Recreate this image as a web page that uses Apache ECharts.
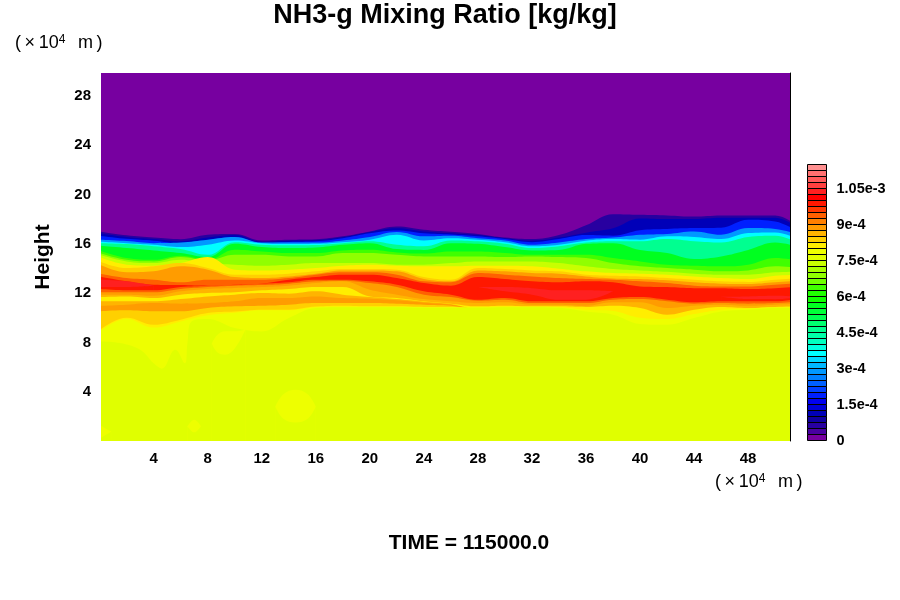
<!DOCTYPE html>
<html>
<head>
<meta charset="UTF-8">
<title>NH3-g Mixing Ratio</title>
<style>
  html, body { margin: 0; background: #fff; }
  #main { width: 900px; height: 600px; }
</style>
<script src="https://cdn.jsdelivr.net/npm/echarts@6/dist/echarts.min.js"></script>
</head>
<body>
<div id="main"></div>
<script>
// horizontal positions (x10^4 m) where the contour heights were read
var xPos = [0,2,4,6,8,10,12,14,16,18,20,22,24,26,28,30,32,34,36,38,40,42,44,46,48,50,52];

// colour bar, level 0 (bottom) to level 45 (top), each level is 2.5e-5 kg/kg
var levelColors = ['#7700a0','#4800a0','#2800a0','#1000a0','#0000b8','#0000d8','#0000f0','#0020ff','#0040ff','#0060ff',
  '#0080ff','#0098ff','#00b8ff','#00d8ff','#00ffff','#00ffe0','#00ffc0','#00ffa8','#00ff90','#00ff70',
  '#00ff50','#00ff38','#00ff20','#10ff00','#20ff00','#40ff00','#70ff00','#90ff00','#a8ff00','#c8ff00',
  '#e0ff00','#eeff00','#ffee00','#ffd000','#ffb400','#ff9c00','#ff8000','#ff6000','#ff3800','#ff1800',
  '#ff0000','#ff2020','#ff4040','#ff5a5a','#ff7070','#ff9090'];
var barLabels = ['0','1.5e-4','3e-4','4.5e-4','6e-4','7.5e-4','9e-4','1.05e-3'];
var xTicks = [4,8,12,16,20,24,28,32,36,40,44,48];
var yTicks = [4,8,12,16,20,24,28];

var topDark    = [17.0,16.68,16.5,16.37,16.73,16.8,16.27,16.33,16.37,16.6,17.0,17.4,17.14,16.97,16.8,16.5,16.38,16.7,17.5,18.4,18.35,18.3,18.2,18.3,18.3,18.3,17.1];
var topNavy    = [16.85,16.55,16.38,16.2,16.5,16.7,16.15,16.25,16.28,16.52,16.95,17.25,17.0,16.85,16.7,16.45,16.25,16.5,16.9,17.25,18.05,18.0,18.0,18.1,18.1,18.1,17.0];
var topBlue    = [16.65,16.4,16.25,16.05,16.3,16.55,16.05,16.15,16.2,16.45,16.85,17.08,16.85,16.75,16.6,16.38,16.13,16.38,16.7,16.65,17.1,17.2,17.27,17.3,17.95,17.8,16.8];
var topAzure   = [16.33,16.22,16.05,16.1,16.33,16.55,16.1,16.1,16.1,16.27,16.55,16.95,16.6,16.65,16.45,16.27,15.92,16.1,16.38,16.5,16.73,16.8,17.0,16.73,17.27,17.2,16.6];
var topCyan    = [16.17,16.05,15.92,15.73,15.92,16.27,16.05,15.97,16.0,16.13,16.33,16.73,16.27,16.45,16.33,16.13,15.8,15.92,16.25,16.38,16.33,16.6,16.55,16.38,16.87,16.92,16.2];
var topSpring  = [16.05,15.97,15.8,15.57,15.1,16.13,15.92,15.87,15.9,16.05,16.2,15.92,15.8,16.27,16.2,16.0,15.65,15.8,16.1,16.2,16.2,16.38,16.2,16.1,16.55,16.65,15.9];
var topGreen   = [15.84,15.65,15.46,15.25,14.92,16.0,15.73,15.65,15.7,15.92,16.05,15.57,15.5,16.05,16.0,15.73,15.46,15.5,16.0,16.05,15.5,15.25,14.76,14.97,15.5,16.1,15.65];
var topLeaf    = [15.45,14.84,14.7,15.03,14.7,15.52,15.38,15.25,15.25,15.46,15.52,15.3,15.2,15.38,15.38,15.25,15.1,15.1,15.1,14.84,14.57,14.3,14.22,14.17,14.3,14.84,14.57];
var topLime    = [15.25,14.7,14.57,14.92,14.65,15.1,15.1,14.97,14.97,15.25,15.25,15.1,14.97,14.97,14.97,14.92,14.97,14.92,14.84,14.43,14.17,14.03,13.9,13.76,13.84,14.17,14.03];
var topGreenY  = [15.1,14.57,14.43,14.7,14.43,14.3,14.22,14.3,14.43,14.43,14.43,14.3,14.3,14.43,14.57,14.57,14.57,14.43,14.17,13.95,13.84,13.73,13.57,13.49,13.49,13.68,13.76];
var topYellow  = [14.92,14.3,14.22,14.43,14.92,13.9,13.84,13.9,14.03,14.22,14.3,14.22,14.17,14.17,14.22,14.22,14.17,13.98,13.76,13.62,13.57,13.49,13.35,13.22,13.14,13.41,13.49];
var topAmber   = [14.57,14.03,14.17,14.43,14.03,13.49,13.49,13.57,13.76,13.95,13.95,13.9,13.3,13.08,14.03,13.95,13.84,13.76,13.49,13.41,13.35,13.22,13.08,12.95,12.9,13.08,13.22];
var topOrange  = [14.3,13.68,13.76,14.17,13.9,13.3,13.22,13.35,13.57,13.84,13.84,13.76,13.14,12.95,13.84,13.76,13.62,13.57,13.35,13.19,13.14,13.03,12.87,12.76,12.73,12.87,13.03];
var topDeepOr  = [13.57,13.22,13.08,12.87,13.08,13.08,13.08,13.22,13.49,13.68,13.68,13.49,12.95,12.87,13.62,13.49,13.35,13.22,13.14,13.08,12.95,12.81,12.6,12.54,12.54,12.68,12.81];
var topRed     = [13.35,12.95,12.68,12.65,12.6,12.68,12.76,13.08,13.3,13.49,13.49,13.22,12.81,12.6,13.3,13.14,12.95,12.87,12.95,12.87,12.54,12.49,12.4,12.4,12.33,12.4,12.54];

// paler red streaks inside the red band, null where there are none
var topPale    = [13.08,12.95,12.6,null,null,null,null,null,null,null,null,null,null,null,12.49,12.49,12.4,12.22,12.22,12.14,null,null,null,11.7,11.73,11.78,11.7];
var topRedLow  = [12.5,12.5,12.6,null,null,null,null,null,null,null,null,null,null,null,12.49,12.14,11.87,11.46,11.46,12.14,null,null,null,11.7,11.51,11.5,11.7];

// below the red band
var lowDeepOr  = [12.33,12.22,12.22,12.49,12.6,12.68,12.76,12.87,13.08,13.08,12.95,12.68,12.14,11.87,11.46,11.6,11.33,11.33,11.33,11.6,11.68,11.46,11.25,11.33,11.33,11.33,11.6];
var lowOrange  = [12.06,12.06,12.06,12.33,12.49,12.6,12.65,12.76,12.95,13.0,12.81,12.49,11.87,11.68,11.38,11.46,11.19,11.19,11.19,11.46,11.51,11.33,11.14,11.19,11.14,11.19,11.33];
var lowAmber   = [11.87,11.87,11.78,12.14,12.33,12.41,12.49,12.6,12.81,12.95,12.27,11.87,11.51,11.33,11.19,11.25,11.06,11.06,10.97,11.25,11.25,10.79,10.97,11.06,10.97,11.06,11.14];
var lowYellow  = [11.68,11.73,11.6,11.87,12.0,12.06,12.22,12.33,12.49,12.49,11.73,11.6,11.33,11.14,10.92,10.97,10.92,10.92,10.87,10.97,10.79,10.25,10.65,10.87,10.79,10.87,10.92];
var band2Amber = [11.33,11.33,11.33,11.51,11.73,11.87,12.0,11.95,12.14,11.87,11.68,11.51,11.3,11.11,10.7,10.7,10.7,10.7,10.4,10.1,9.4,9.3,9.8,10.4,10.55,10.7,10.7];
var band2Orange= [10.97,11.06,11.19,11.14,11.19,11.33,11.6,11.6,11.73,11.6,11.54,11.41,11.22,11.06,10.7,10.7,10.7,10.7,10.4,10.1,9.4,9.3,9.8,10.4,10.55,10.7,10.7];
var band2Lower = [10.52,10.6,10.52,10.52,10.79,10.92,10.97,11.06,11.19,11.19,11.19,11.14,11.06,10.97,10.7,10.7,10.7,10.7,10.4,10.1,9.4,9.3,9.8,10.4,10.55,10.7,10.7];
var lowPaleY   = [9.0,10.0,9.43,9.84,10.38,10.5,10.65,10.65,10.9,10.97,10.92,10.92,10.87,10.87,10.7,10.7,10.7,10.7,10.4,10.1,9.4,9.3,9.8,10.4,10.55,10.7,10.7];
var lowGreenY  = [8.9,9.9,9.2,9.7,10.2,10.4,10.6,10.6,10.85,10.88,10.88,10.88,10.85,10.85,10.85,10.88,10.88,10.85,10.65,10.55,10.0,9.9,10.3,10.65,10.75,10.85,10.85];

// the uniform lower part has its own, denser reading on the left because of the two spikes
var baseX   = [0,1.5,3,4,4.6,5.4,5.6,6.3,6.5,6.8,8,10,12,14,16,18,20,22,24,26,28,30,32,34,36,38,40,42,44,46,48,50,52];
var lowBase = [8.08,7.95,7.4,6.3,5.87,7.27,7.4,6.3,7.95,9.7,9.9,9.16,8.89,9.97,10.78,10.85,10.85,10.85,10.8,10.8,10.8,10.85,10.85,10.8,10.5,10.25,9.5,9.43,9.97,10.5,10.65,10.79,10.8];

// pale blobs in the lower, nearly uniform part
var blobX      = [8.3,8.7,9.3,10,10.8];
var blobTop    = [7.9,8.6,8.9,8.9,9.05];
var blobBottom = [7.9,7.2,7.0,7.5,9.05];
var roundX      = [13,13.6,14.5,15.4,16];
var roundTop    = [2.8,3.8,4.16,3.8,2.8];
var roundBottom = [2.8,1.8,1.5,1.8,2.8];
var smallX      = [6.5,7,7.5];
var smallTop    = [1.2,1.73,1.2];
var smallBottom = [1.2,0.7,1.2];
var cornerX      = [0,0.85];
var cornerTop    = [1.3,0.75];
var cornerBottom = [0.2,0.75];

var boldFont = 'Liberation Sans';
var myChart = echarts.init(document.getElementById('main'));

function zip(xs, ys) {
  return xs.map(function (x, i) { return [x, ys[i]]; });
}

// every zone is an area down to the axis, later ones paint over earlier ones
function zone(xs, ys, level) {
  return {
    type: 'line',
    data: zip(xs, ys),
    xAxisIndex: 0,
    yAxisIndex: 0,
    smooth: 0.4,
    showSymbol: false,
    silent: true,
    lineStyle: { width: 0 },
    areaStyle: { color: levelColors[level], opacity: 1 }
  };
}

var series = [
  zone(xPos, topDark, 2), zone(xPos, topNavy, 4), zone(xPos, topBlue, 7), zone(xPos, topAzure, 11),
  zone(xPos, topCyan, 14), zone(xPos, topSpring, 18), zone(xPos, topGreen, 22), zone(xPos, topLeaf, 25),
  zone(xPos, topLime, 27), zone(xPos, topGreenY, 29), zone(xPos, topYellow, 32), zone(xPos, topAmber, 33),
  zone(xPos, topOrange, 35), zone(xPos, topDeepOr, 37), zone(xPos, topRed, 39), zone(xPos, topPale, 41),
  zone(xPos, topRedLow, 39), zone(xPos, lowDeepOr, 37), zone(xPos, lowOrange, 35), zone(xPos, lowAmber, 34),
  zone(xPos, lowYellow, 32), zone(xPos, band2Amber, 34), zone(xPos, band2Orange, 35), zone(xPos, band2Lower, 33),
  zone(xPos, lowPaleY, 32), zone(xPos, lowGreenY, 31), zone(baseX, lowBase, 30),
  zone(blobX, blobTop, 31), zone(blobX, blobBottom, 30),
  zone(roundX, roundTop, 31), zone(roundX, roundBottom, 30),
  zone(smallX, smallTop, 31), zone(smallX, smallBottom, 30),
  zone(cornerX, cornerTop, 31), zone(cornerX, cornerBottom, 30),
  {
    type: 'custom',
    xAxisIndex: 1,
    yAxisIndex: 2,
    silent: true,
    data: levelColors.map(function (c, i) { return [i]; }),
    renderItem: function (params, api) {
      var i = api.value(0);
      var a = api.coord([0, i + 1]);
      var b = api.coord([1, i]);
      return {
        type: 'rect',
        shape: { x: a[0], y: a[1], width: b[0] - a[0], height: b[1] - a[1] },
        style: { fill: levelColors[i], stroke: '#000', lineWidth: 1 }
      };
    }
  }
];

var option = {
  animation: false,
  backgroundColor: '#fff',
  title: [
    { text: 'NH3-g Mixing Ratio [kg/kg]', left: 440, top: -3, textAlign: 'center',
      textStyle: { fontFamily: boldFont, fontWeight: 'bold', fontSize: 27, color: '#000' } },
    { text: 'TIME = 115000.0', left: 464, top: 528, textAlign: 'center',
      textStyle: { fontFamily: boldFont, fontWeight: 'bold', fontSize: 21, color: '#000' } }
  ],
  graphic: [
    { type: 'text', left: 15, top: 34, style: unitStyle() },
    { type: 'text', left: 715, top: 473, style: unitStyle() }
  ],
  grid: [
    { left: 101, top: 73, width: 689, height: 368, show: true, backgroundColor: levelColors[0], borderWidth: 0 },
    { left: 807.5, top: 164.5, width: 19, height: 276 }
  ],
  xAxis: [
    {
      type: 'value', gridIndex: 0, min: 0.1, max: 51.1,
      axisLine: { show: false }, axisTick: { show: false }, splitLine: { show: false },
      axisLabel: { customValues: xTicks, margin: 10, fontFamily: boldFont, fontWeight: 'bold', fontSize: 15, color: '#000' }
    },
    { type: 'value', gridIndex: 1, min: 0, max: 1, show: false }
  ],
  yAxis: [
    {
      type: 'value', gridIndex: 0, min: 0, max: 29.85,
      name: 'Height', nameLocation: 'middle', nameGap: 47, nameRotate: 90,
      nameTextStyle: { fontFamily: boldFont, fontWeight: 'bold', fontSize: 21, color: '#000' },
      axisLine: { show: false }, axisTick: { show: false }, splitLine: { show: false },
      axisLabel: { customValues: yTicks, margin: 10, padding: [2, 0, 0, 0], fontFamily: boldFont, fontWeight: 'bold', fontSize: 15, color: '#000' }
    },
    {
      type: 'value', gridIndex: 0, position: 'right', min: 0, max: 29.85,
      axisLine: { show: true, onZero: false, lineStyle: { color: '#000', width: 1 } },
      axisTick: { show: false }, axisLabel: { show: false }, splitLine: { show: false }
    },
    {
      type: 'value', gridIndex: 1, position: 'right', min: 0, max: 46, interval: 6,
      axisLine: { show: false }, axisTick: { show: false }, splitLine: { show: false },
      axisLabel: {
        margin: 10, fontFamily: boldFont, fontWeight: 'bold', fontSize: 14.5, color: '#000',
        formatter: function (v) { return v % 6 === 0 ? barLabels[v / 6] : ''; }
      }
    }
  ],
  series: series
};

function unitStyle() {
  return {
    text: '(\u2009\u00d7\u200910{s|4}\u2002\u2009m\u2009)',
    fontFamily: boldFont,
    fontSize: 18,
    fill: '#000',
    rich: { s: { fontFamily: boldFont, fontSize: 12, verticalAlign: 'top', fill: '#000', padding: [0, 0, 6, 0] } }
  };
}

myChart.setOption(option);
</script>
</body>
</html>
